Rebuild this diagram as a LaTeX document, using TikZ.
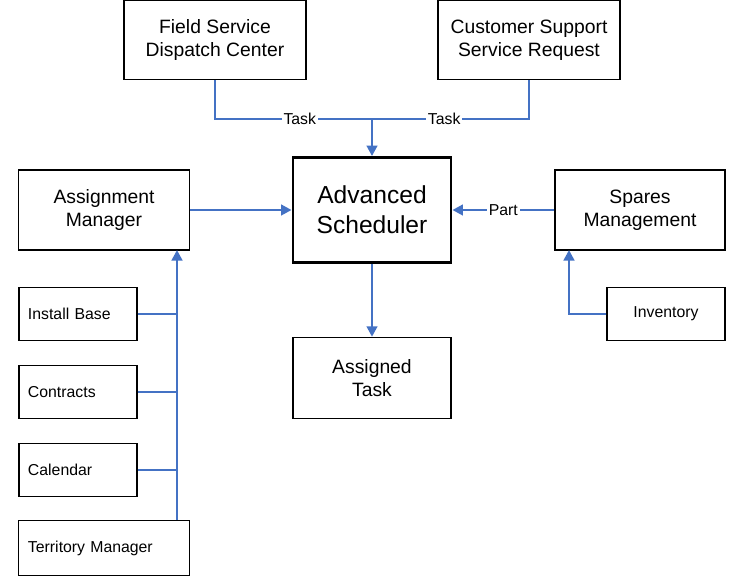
\documentclass[tikz,border=0pt]{standalone}
\usepackage{fontspec}
\setmainfont{Liberation Sans}
\usetikzlibrary{arrows.meta}
\definecolor{linkblue}{RGB}{68,114,196}
\begin{document}
\begin{tikzpicture}[x=0.02cm,y=-0.02cm,
  box/.style={draw,thick,align=center,inner sep=0pt,font=\fontsize{11}{13}\selectfont},
  small/.style={box,font=\fontsize{9}{11}\selectfont,align=left,text width=100*0.02cm},
  link/.style={draw=linkblue,line width=1.6pt},
  arr/.style={link,-{Triangle[length=6pt,width=6pt]}},
  tag/.style={fill=white,inner sep=1pt,font=\fontsize{9}{11}\selectfont}]
  \useasboundingbox (0,0) rectangle (745,577);
  % top sources
  \node[box,minimum width=182*0.02cm,minimum height=79*0.02cm] (fsdc) at (215,40) {Field Service\\Dispatch Center};
  \node[box,minimum width=182*0.02cm,minimum height=79*0.02cm] (cssr) at (529,40) {Customer Support\\Service Request};
  % centre
  \node[box,line width=1.6pt,minimum width=158*0.02cm,minimum height=105*0.02cm,font=\fontsize{14}{17}\selectfont] (sched) at (372,210) {Advanced\\Scheduler};
  \node[box,minimum width=158*0.02cm,minimum height=81*0.02cm] (done) at (372,378) {Assigned\\Task};
  % left side
  \node[box,minimum width=171*0.02cm,minimum height=80*0.02cm] (amgr) at (104,210) {Assignment\\Manager};
  \node[small,minimum width=118*0.02cm,minimum height=53*0.02cm] (ibase) at (78,314) {Install Base};
  \node[small,minimum width=118*0.02cm,minimum height=53*0.02cm] (contr) at (78,392) {Contracts};
  \node[small,minimum width=118*0.02cm,minimum height=53*0.02cm] (cal) at (78,470) {Calendar};
  \node[small,text width=152*0.02cm,minimum width=171*0.02cm,minimum height=55*0.02cm] (terr) at (104,548) {Territory Manager};
  % right side
  \node[box,minimum width=170*0.02cm,minimum height=80*0.02cm] (spares) at (640,210) {Spares\\Management};
  \node[box,font=\fontsize{9}{11}\selectfont,minimum width=118*0.02cm,minimum height=53*0.02cm] (inv) at (666,314) {Inventory};
  \coordinate (join) at (372,119);
  \coordinate (bus) at (177,250);
  % connectors
  \draw[link] (fsdc.south) |- node[tag,pos=0.77] {Task} (join);
  \draw[link] (cssr.south) |- node[tag,pos=0.77] {Task} (join);
  \draw[arr] (join) -- (sched.north);
  \draw[arr] (amgr.east) -- (sched.west);
  \draw[arr] (spares.west) -- node[tag,pos=0.5] {Part} (sched.east);
  \draw[arr] (sched.south) -- (done.north);
  \draw[arr] (terr.north -| bus) -- (bus);
  \foreach \src in {ibase,contr,cal}
    \draw[link] (\src.east) -- (\src.east -| bus);
  \draw[arr] (inv.west) -| (569,250);
\end{tikzpicture}
\end{document}
